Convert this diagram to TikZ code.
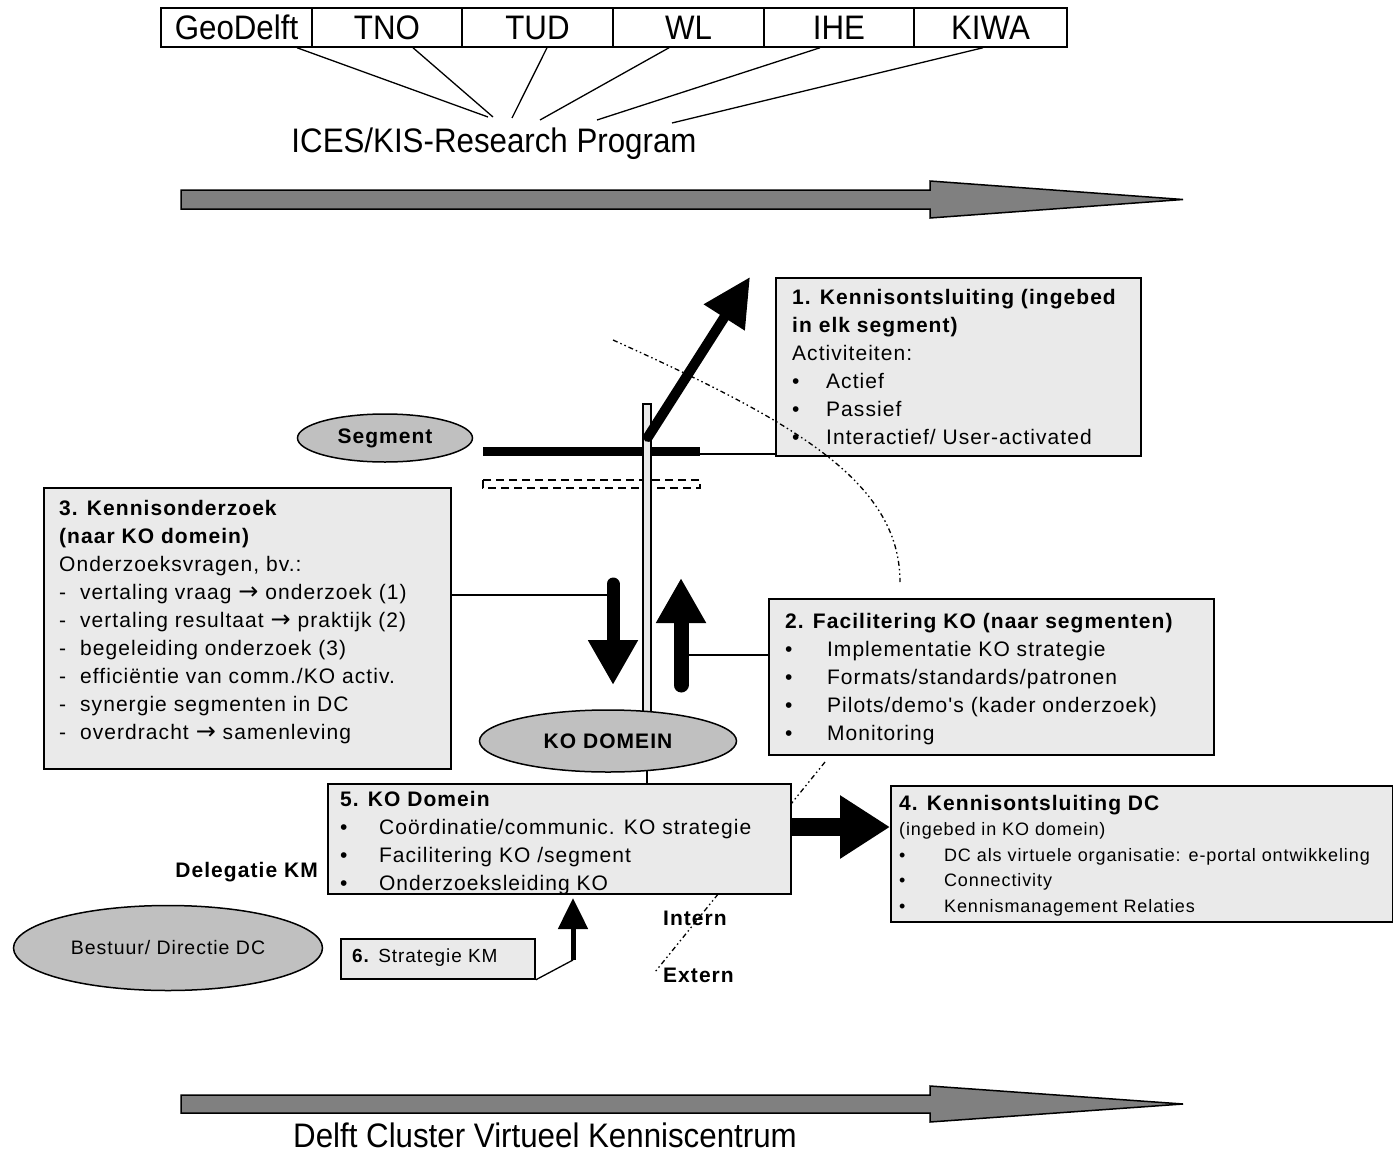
\documentclass[tikz,border=0pt]{standalone}
\usepackage{fontspec}
\setmainfont{Liberation Sans}
\newfontfamily\bxf[LetterSpace=5]{Liberation Sans}
\newfontfamily\smf[LetterSpace=5]{Liberation Sans}
\newfontfamily\cnd[FakeStretch=0.92]{Liberation Sans}
\newfontfamily\arwf{DejaVu Sans}
\usetikzlibrary{shapes.geometric,arrows.meta,calc}
\definecolor{boxgray}{RGB}{234,234,234}
\definecolor{ovalgray}{RGB}{192,192,192}
\definecolor{bandgray}{RGB}{128,128,128}
\newcommand{\kbul}[1][34pt]{\makebox[#1][l]{•}}
\newcommand{\kdash}{\makebox[21pt][l]{-}}
\newcommand{\karrow}{{\arwf\fontsize{24}{28}\selectfont →}}
\newcommand{\ksmall}{\smf\fontsize{18}{25.5}\selectfont}
\begin{document}
\begin{tikzpicture}[x=1pt,y=-1pt,
  cell/.style={draw,line width=1.5pt,minimum height=39pt,inner sep=0pt,
    font=\cnd\fontsize{34}{34}\selectfont},
  panel/.style={draw,line width=1.8pt,fill=boxgray,inner sep=0pt,anchor=north west},
  txt/.style={anchor=north west,inner sep=0pt,align=left,
    font=\bxf\fontsize{21}{28}\selectfont},
  lbl/.style={inner sep=0pt,font=\bxf\fontsize{21}{28}\selectfont},
  oval/.style={ellipse,draw,line width=1.5pt,fill=ovalgray,inner sep=0pt},
  band/.style={draw,line width=1.5pt,fill=bandgray,line join=miter},
  wire/.style={line width=1.3pt},
  bound/.style={line width=1.3pt,dash pattern=on 5pt off 3pt on 1.5pt off 3pt on 1.5pt off 3pt},
  banner/.style={inner sep=0pt,font=\cnd\fontsize{34}{34}\selectfont}
]
\fill[white] (0,0) rectangle (1393,1154);
\useasboundingbox (0,0) rectangle (1393,1154);

% partner row
\foreach \nm/\cx/\w/\lab in {c1/236.5/151/GeoDelft,c2/387/150/TNO,c3/537.5/151/TUD,
    c4/688.5/151/WL,c5/839/150/IHE,c6/990.5/153/KIWA}
  \node[cell,minimum width=\w pt] (\nm) at (\cx,27.5) {\lab};
\node[banner,anchor=base] (ices) at (494,152) {ICES/KIS-Research Program};
\coordinate (g1) at (488,117);
\coordinate (g2) at (493,117);
\coordinate (g3) at (512,118);
\coordinate (g4) at (540,120);
\coordinate (g5) at (597,120);
\coordinate (g6) at (672,123);
\draw[wire] ([xshift=60.5pt]c1.south) -- (g1);
\draw[wire] ([xshift=26pt]c2.south) -- (g2);
\draw[wire] ([xshift=9.5pt]c3.south) -- (g3);
\draw[wire] ([xshift=-19.5pt]c4.south) -- (g4);
\draw[wire] ([xshift=-19pt]c5.south) -- (g5);
\draw[wire] ([xshift=-7.5pt]c6.south) -- (g6);

% time bands
\draw[band] (181,190) -- (930,190) -- (930,181) -- (1183,199.5) -- (930,218) -- (930,209) -- (181,209) -- cycle;
\draw[band] (181,1095) -- (930,1095) -- (930,1086) -- (1183,1104) -- (930,1122) -- (930,1113) -- (181,1113) -- cycle;
\node[banner,anchor=base] (dcvk) at (545,1147) {Delft Cluster Virtueel Kenniscentrum};

% internal / external boundary, lower part
\draw[bound] (825,762) -- (655,972);

% boxes
\node[panel,minimum width=365pt,minimum height=178pt] (k1) at (775,277) {};
\node[panel,minimum width=407pt,minimum height=281pt] (k3) at (43,487) {};
\node[panel,minimum width=445pt,minimum height=156pt] (k2) at (768,598) {};
\node[panel,minimum width=463pt,minimum height=110pt] (k5) at (327,783) {};
\node[panel,minimum width=502pt,minimum height=136pt] (k4) at (890,785) {};
\node[panel,minimum width=194pt,minimum height=40pt] (k6) at (340,938) {};

\node[txt] (k1t) at (792,284.4) {\strut\textbf{1. Kennisontsluiting (ingebed}\\
  \textbf{in elk segment)}\\
  Activiteiten:\\
  \kbul Actief\\
  \kbul Passief\\
  \kbul Interactief/ User-activated};
\node[txt] (k3t) at (59,495.4) {\strut\textbf{3. Kennisonderzoek}\\
  \textbf{(naar KO domein)}\\
  Onderzoeksvragen, bv.:\\
  \kdash vertaling vraag \karrow{} onderzoek (1)\\
  \kdash vertaling resultaat \karrow{} praktijk (2)\\
  \kdash begeleiding onderzoek (3)\\
  \kdash efficiëntie van comm./KO activ.\\
  \kdash synergie segmenten in DC\\
  \kdash overdracht \karrow{} samenleving};
\node[txt] (k2t) at (785,608.4) {\strut\textbf{2. Facilitering KO (naar segmenten)}\\
  \kbul[35pt] Implementatie KO strategie\\
  \kbul[35pt] Formats/standards/patronen\\
  \kbul[35pt] Pilots/demo's (kader onderzoek)\\
  \kbul[35pt] Monitoring};
\node[txt] (k5t) at (340,786.4) {\strut\textbf{5. KO Domein}\\
  \kbul[32pt] Coördinatie/communic. KO strategie\\
  \kbul[32pt] Facilitering KO /segment\\
  \kbul[32pt] Onderzoeksleiding KO};
\node[txt,font=\bxf\fontsize{21}{25.5}\selectfont] (k4t) at (899,792.15)
  {\strut\textbf{4. Kennisontsluiting DC}\\
  \ksmall (ingebed in KO domein)\\
  \ksmall\kbul[39pt] DC als virtuele organisatie: e-portal ontwikkeling\\
  \ksmall\kbul[39pt] Connectivity\\
  \ksmall\kbul[39pt] Kennismanagement Relaties};
\node[anchor=west,inner sep=0pt,font=\bxf\fontsize{19}{20}\selectfont] (k6t) at (352,958)
  {\textbf{6.} Strategie KM};

% segment level
\node[oval,minimum width=175pt,minimum height=48pt,font=\bxf\fontsize{21}{28}\selectfont\bfseries]
  (seg) at (385,438) {Segment};
\draw[line width=9pt] (483,451.5) -- (700,451.5);
\coordinate (segend) at (700,454);
\draw[wire] (segend) -- (segend -| k1.west);
\draw[line width=1.2pt,dash pattern=on 8pt off 5pt] (483,480) rectangle (700,488);

% pole down to the KO domain
\node[draw,line width=1.5pt,fill=boxgray,minimum width=8pt,minimum height=310pt,inner sep=0pt]
  (pole) at (647,559) {};
\draw[wire] (pole.south) -- (pole.south |- k5.north);
\node[oval,minimum width=257pt,minimum height=62pt,font=\bxf\fontsize{21}{28}\selectfont\bfseries]
  (ko) at (608,741) {KO DOMEIN};

% flow arrows
\coordinate (dA) at (648,437);
\coordinate (dB) at (750,277);
\draw[line width=10pt,line cap=round,-{Triangle[length=48pt,width=46pt]}] (dA) -- (dB);

\coordinate (dn1) at (613,584);
\coordinate (dn2) at (613,685);
\coordinate (dnj) at (607,595);
\draw[wire] (dnj -| k3.east) -- (dnj);
\draw[line width=13pt,line cap=round,-{Triangle[length=45pt,width=47pt]}] (dn1) -- (dn2);

\coordinate (up1) at (681,685);
\coordinate (up2) at (681,578);
\coordinate (upj) at (688,655);
\draw[wire] (upj -| k2.west) -- (upj);
\draw[line width=15pt,line cap=round,-{Triangle[length=45pt,width=47pt]}] (up1) -- (up2);

\coordinate (b54) at (790,827);
\draw[line width=18pt,-{Triangle[length=50pt,width=60pt]}] (b54 -| k5.east) -- (b54 -| k4.west);

\coordinate (s6) at (573,960);
\coordinate (t6) at (573,898);
\draw[wire] (k6.south east) -- (s6);
\draw[line width=5pt,-{Triangle[length=31pt,width=29pt]}] (s6) -- (t6);

% management side
\node[lbl,anchor=base east,font=\bxf\fontsize{21}{28}\selectfont\bfseries] (deleg) at (318,877) {Delegatie KM};
\node[oval,minimum width=309pt,minimum height=85pt,font=\bxf\fontsize{19.5}{24}\selectfont]
  (bestuur) at (168,948) {Bestuur/ Directie DC};
\node[lbl,anchor=base west,font=\bxf\fontsize{21}{28}\selectfont\bfseries] (intern) at (663,925) {Intern};
\node[lbl,anchor=base west,font=\bxf\fontsize{21}{28}\selectfont\bfseries] (extern) at (663,982) {Extern};

% internal / external boundary, upper part
\draw[bound] (613,340) .. controls (790,420) and (900,480) .. (900,582);
\end{tikzpicture}
\end{document}
